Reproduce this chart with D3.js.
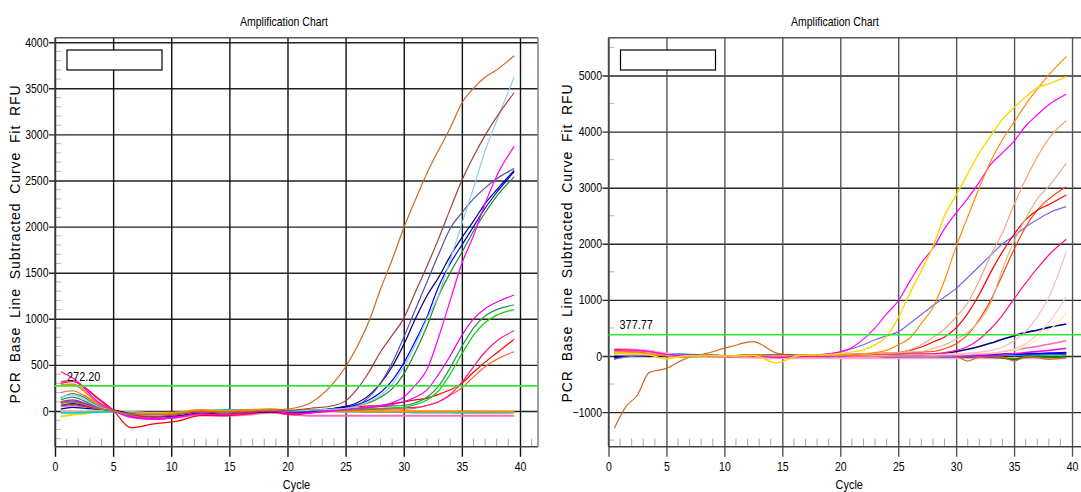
<!DOCTYPE html>
<html>
<head>
<meta charset="utf-8">
<script src="https://cdn.jsdelivr.net/npm/d3@7"></script>
<style>
  body { margin: 0; background: #fff; }
  svg text { font-family: "Liberation Sans", Arial, sans-serif; fill: #000; }
</style>
</head>
<body>
<svg id="chart" width="1081" height="492"></svg>
<script>
// Amplification charts (two panels)

const chartTitle = 'Amplification Chart';
const yLabel = 'PCR Base Line Subtracted Curve Fit RFU';
const xLabel = 'Cycle';
const xTicks = [0, 5, 10, 15, 20, 25, 30, 35, 40];

const leftYTicks = [0, 500, 1000, 1500, 2000, 2500, 3000, 3500, 4000];
const rightYTicks = [-1000, 0, 1000, 2000, 3000, 4000, 5000];
const leftThreshold = 272.20;
const rightThreshold = 377.77;

const leftCycles = [0.5, 1.5, 2.5, 3.5, 5, 6.5, 8.5, 10.5, 12.5, 14.5, 16.5, 18.5, 20.5, 22, 24, 25, 26, 27, 28, 29, 30, 31, 32, 33, 34, 35, 36, 37, 38, 39.5];
const rightCycles = [0.5, 1.5, 2.5, 3.5, 5, 6.5, 8.5, 10.5, 12.5, 14.5, 16.5, 18.5, 20.5, 22, 23, 24, 25, 26, 27, 28, 29, 30, 31, 32, 33, 34, 35, 36, 37, 38, 39.5];

const leftColors = ['#ffb6c1', '#ff69b4', '#ffd700', '#00ced1', '#ff8c00',
  '#ff6030', '#ff0000', '#ff1493', '#00dd00', '#2e8b57', '#ee00ee',
  '#228b22', '#0000ff', '#000080', '#5a50a0', '#ff00ff', '#87ceeb', '#a0403c', '#d2691e'];
const leftWidths = [2, 2, 2, 2, 2, 1.2, 1.2, 1.2, 1.2, 1.2, 1.2, 1.2, 1.2, 1.2, 1.2, 1.2, 1.2, 1.2, 1.2];
const leftValues = [
  [0,0,0,0,0,-10,-20,-20,-10,-10,-10,-10,-10,-10,-10,-10,-10,-10,-10,-10,-10,-10,-10,-10,-10,-10,-10,-10,-10,-10],
  [50,60,50,30,0,-60,-80,-70,-40,-50,-40,-20,-40,-50,-50,-50,-50,-50,-50,-50,-50,-50,-50,-50,-50,-50,-50,-50,-50,-50],
  [-60,-40,-30,-10,0,-20,-30,-20,0,-10,0,20,0,10,0,-5,-5,-10,-10,-10,-10,-10,-10,-10,-10,-10,-15,-15,-10,-5],
  [-20,-20,-15,-10,-5,-20,-30,-30,-10,10,10,10,0,5,0,-5,-5,-10,-10,-10,-10,-15,-15,-15,-15,-20,-20,-20,-20,-15],
  [282,290,220,100,0,-30,-30,-20,10,0,10,20,0,10,0,0,0,-5,-5,-5,-5,-5,-5,-5,-5,-5,-8,-8,-8,-8],
  [200,220,170,90,5,-50,-70,-50,-20,-30,-20,0,-20,-10,0,10,10,15,15,20,20,30,60,100,170,250,370,480,560,643],
  [300,320,260,160,10,-180,-140,-110,-50,-50,-30,-10,-40,-20,20,40,50,55,60,80,100,120,140,180,230,300,420,530,630,778],
  [426,360,260,150,10,-60,-90,-70,-30,-40,-20,0,-30,-20,0,10,15,20,25,30,35,40,60,100,180,310,480,640,760,870],
  [80,100,80,40,0,-30,-50,-40,-10,-20,-10,0,-10,0,10,15,20,25,30,35,40,70,120,220,400,620,820,960,1040,1100],
  [120,150,110,50,0,-40,-50,-40,-10,-20,-10,0,-10,0,10,20,30,40,50,55,60,90,150,270,470,700,900,1030,1100,1150],
  [100,120,90,50,0,-60,-80,-60,-20,-30,-10,0,-20,-10,10,20,30,40,50,70,100,150,230,400,600,820,1000,1110,1180,1258],
  [140,190,150,70,5,-40,-50,-40,-10,-20,-10,10,0,10,25,40,60,90,150,240,400,640,920,1250,1500,1720,1950,2150,2330,2540],
  [60,80,60,30,10,-30,-50,-40,-10,-20,-10,0,-10,0,25,40,70,120,200,330,520,760,1020,1350,1600,1800,2000,2200,2370,2596],
  [20,40,30,20,10,-30,-60,-50,-20,-30,-20,-10,-20,-10,30,50,90,170,300,480,720,1000,1250,1450,1680,1880,2060,2250,2400,2610],
  [90,110,80,40,0,-40,-60,-40,-10,-20,-10,0,-10,0,20,30,60,150,300,520,800,1100,1400,1700,1980,2150,2300,2420,2520,2630],
  [320,330,250,120,10,-70,-90,-70,-30,-40,-20,0,-30,-20,10,20,30,40,60,90,150,280,450,800,1200,1600,1900,2250,2550,2870],
  [150,175,130,60,5,-40,-50,-40,-10,-20,-5,10,0,10,20,30,50,100,170,290,480,720,1000,1260,1640,2030,2420,2820,3150,3620],
  [60,70,50,25,5,-40,-60,-40,-10,-20,-10,0,10,30,60,110,240,420,640,820,1005,1290,1570,1870,2190,2500,2760,2990,3190,3452],
  [100,95,70,35,0,-30,-40,-30,0,-10,0,10,30,90,310,480,700,970,1320,1640,1985,2290,2580,2830,3070,3340,3500,3620,3700,3853]
];

const rightColors = ['#ffaacc', '#000000', '#008000', '#00ffff', '#0000ff', '#d2691e',
  '#ee00ee', '#ff69b4', '#000080', '#fff59d', '#ffc0cb', '#ffb6c1', '#ff1493',
  '#7b68ee', '#ff4500', '#ff0000', '#deb887', '#ffa07a', '#ff00ff', '#ff8c00', '#ffd700'];
const rightWidths = [2, 2, 2, 2, 2, 1.2, 1.5, 1.5, 1.6, 1.2, 1.2, 1.2, 1.2, 1.2, 1.2, 1.2, 1.2, 1.2, 1.2, 1.2, 1.4];
const rightValues = [
  [60,70,60,50,40,20,0,-20,-30,-40,-40,-40,-40,-40,-40,-40,-40,-40,-40,-40,-40,-40,-40,-40,-40,-40,-40,-40,-40,-40,-40],
  [0,10,10,10,10,10,10,0,10,10,10,10,10,10,10,10,10,10,10,10,0,0,10,10,20,20,30,20,30,30,40],
  [100,110,90,50,20,0,0,0,10,0,10,0,0,0,0,-10,-10,-10,-10,-10,-20,-20,-20,-10,-20,-30,-60,-20,-10,-20,-10],
  [40,60,50,40,40,20,10,0,10,10,10,10,10,10,0,0,0,-10,-10,-10,-10,-10,0,0,10,20,20,30,30,40,50],
  [-50,0,10,20,20,20,10,0,0,0,10,10,20,30,20,20,20,20,20,10,10,10,20,20,20,30,30,40,40,50,60],
  [-1290,-903,-695,-297,-220,-60,48,166,255,50,0,10,20,20,20,20,20,20,20,10,0,-10,-90,-20,-10,-20,-90,-10,-30,-60,-30],
  [90,100,90,70,20,0,0,-10,0,-20,-10,0,0,0,0,-10,-10,-10,-10,-10,-10,-10,-10,0,0,20,40,60,80,100,137],
  [100,110,100,80,30,0,-10,-20,-10,-20,-10,-20,-10,-10,-10,-10,-10,-10,-10,-10,0,10,20,30,40,70,100,140,170,210,273],
  [-30,0,10,10,10,10,10,0,10,10,10,10,10,15,15,15,20,20,25,30,50,80,120,170,230,300,360,420,460,510,570],
  [20,20,20,20,10,0,0,0,10,0,10,10,10,15,15,15,20,20,20,20,25,30,35,45,55,60,100,180,300,450,760],
  [110,120,110,90,40,0,10,0,10,0,10,10,20,20,25,25,25,25,30,30,30,35,40,45,50,80,130,220,380,600,1057],
  [130,130,120,100,50,10,10,0,10,0,10,20,20,30,30,30,30,35,35,35,35,40,50,70,100,160,270,440,700,1050,1860],
  [120,110,100,80,20,0,10,0,10,-20,0,10,20,30,30,35,35,40,40,40,60,100,170,300,490,730,1020,1300,1560,1800,2080],
  [-50,-20,0,10,20,20,10,0,10,10,10,20,100,200,290,360,430,580,740,900,1050,1206,1400,1600,1800,2000,2140,2300,2430,2550,2662],
  [70,80,70,40,10,-10,0,0,10,-10,0,10,10,20,30,40,50,60,70,80,130,220,380,650,1000,1450,1900,2300,2600,2800,3018],
  [50,60,50,30,10,-10,0,-10,0,-10,0,10,20,30,40,50,60,100,160,250,340,500,760,1100,1500,1860,2170,2430,2600,2700,2870],
  [40,50,40,30,10,-10,0,0,10,0,10,10,20,30,40,50,60,70,80,130,200,300,420,620,950,1550,2050,2450,2800,3030,3435],
  [90,100,90,60,20,0,10,0,10,0,10,20,30,40,50,55,60,110,200,330,480,700,950,1350,1800,2200,2700,3150,3550,3880,4195],
  [100,110,100,80,30,0,10,0,20,-30,0,30,100,300,500,750,980,1330,1660,1920,2270,2550,2810,3100,3420,3620,3830,4100,4300,4480,4665],
  [80,70,60,40,0,-20,0,0,20,0,10,20,20,40,60,100,200,320,580,870,1350,1950,2480,3000,3480,3860,4170,4480,4760,5010,5336],
  [60,50,40,20,-50,0,10,0,10,-120,10,20,60,110,200,350,680,1120,1520,1950,2500,2870,3250,3620,3930,4220,4430,4620,4780,4850,4979]
];

const svg = d3.select('#chart');
const NARROW = 0.84; // the original labels use a condensed face

function drawPanel(p) {
  const x = d3.scaleLinear().domain([0, 41.55]).range([p.left, p.right]);
  const y = d3.scaleLinear().domain(p.yDomain).range([p.bottom, p.top]);
  const w = p.right - p.left, h = p.bottom - p.top;

  svg.append('clipPath').attr('id', 'clip-' + p.id)
    .append('rect').attr('x', p.left).attr('y', p.top).attr('width', w).attr('height', h);

  const g = svg.append('g');

  // minor ticks (grey, inside the plot)
  g.append('g').selectAll('line')
    .data(p.yMinor)
    .enter().append('line')
    .attr('x1', p.left).attr('x2', p.left + 6)
    .attr('y1', d => y(d)).attr('y2', d => y(d))
    .attr('stroke', '#b8b8b8').attr('stroke-width', 1);

  const xMinor = d3.range(1, 42).filter(d => d % 5 !== 0);
  g.append('g').selectAll('line')
    .data(xMinor)
    .enter().append('line')
    .attr('x1', d => x(d)).attr('x2', d => x(d))
    .attr('y1', p.bottom).attr('y2', p.bottom - 8)
    .attr('stroke', '#a8a8a8').attr('stroke-width', 1);

  // horizontal grid + outer ticks + labels
  const yAxis = g.append('g')
    .attr('transform', `translate(${p.left},0)`)
    .call(d3.axisLeft(y).tickValues(p.yTicks).tickFormat(d3.format('d'))
      .tickSizeInner(-w).tickSizeOuter(0));
  yAxis.select('.domain').remove();
  yAxis.selectAll('.tick line').attr('x1', -6).attr('stroke', p.hGrid).attr('stroke-width', 1.4);
  yAxis.selectAll('.tick text')
    .attr('font-size', 12.5).attr('font-family', null)
    .attr('x', -6.5 / NARROW)
    .attr('transform', `scale(${NARROW},1)`);

  // vertical grid + outer ticks + labels
  const xAxis = g.append('g')
    .attr('transform', `translate(0,${p.bottom})`)
    .call(d3.axisBottom(x).tickValues(xTicks).tickSizeInner(10).tickSizeOuter(0));
  xAxis.select('.domain').remove();
  xAxis.selectAll('.tick line').attr('y1', -h).attr('y2', 10).attr('stroke', p.vGrid).attr('stroke-width', 1.4);
  xAxis.selectAll('.tick text')
    .attr('font-size', 12.5).attr('font-family', null)
    .attr('y', 24).attr('dy', 0)
    .attr('transform', `scale(${NARROW},1)`);

  // plot frame
  g.append('line').attr('x1', p.left).attr('x2', p.right).attr('y1', p.top).attr('y2', p.top)
    .attr('stroke', '#555').attr('stroke-width', 1.4);
  g.append('line').attr('x1', p.left).attr('x2', p.right).attr('y1', p.bottom).attr('y2', p.bottom)
    .attr('stroke', '#444').attr('stroke-width', 1.4);
  g.append('line').attr('x1', p.left).attr('x2', p.left).attr('y1', p.top).attr('y2', p.bottom)
    .attr('stroke', '#444').attr('stroke-width', 1.4);
  g.append('line').attr('x1', p.right).attr('x2', p.right).attr('y1', p.top).attr('y2', p.bottom)
    .attr('stroke', '#888').attr('stroke-width', 1.6);

  // curves
  const line = d3.line()
    .x((d, i) => x(p.cycles[i]))
    .y(d => y(d))
    .curve(d3.curveMonotoneX);

  g.append('g').attr('clip-path', `url(#clip-${p.id})`)
    .selectAll('path')
    .data(p.values)
    .enter().append('path')
    .attr('d', d => line(d))
    .attr('fill', 'none')
    .attr('stroke', (d, i) => p.colors[i])
    .attr('stroke-width', (d, i) => p.widths[i])
    .attr('stroke-linejoin', 'round');

  // threshold
  g.append('line')
    .attr('x1', p.left).attr('x2', p.right)
    .attr('y1', y(p.threshold)).attr('y2', y(p.threshold))
    .attr('stroke', '#33e833').attr('stroke-width', 1.6);
  g.append('text')
    .attr('transform', `translate(${p.left + p.thrDx},${y(p.threshold) - p.thrDy}) scale(${NARROW},1)`)
    .attr('font-size', 13)
    .text(p.threshold.toFixed(2));

  // empty legend box
  g.append('rect')
    .attr('x', p.left + 12).attr('y', 50)
    .attr('width', 95).attr('height', 20)
    .attr('fill', '#fff').attr('stroke', '#000').attr('stroke-width', 1.2);

  // titles
  svg.append('text')
    .attr('transform', `translate(${p.titleX},26) scale(${NARROW},1)`)
    .attr('text-anchor', 'middle').attr('font-size', 12.5).text(chartTitle);
  svg.append('text')
    .attr('transform', `translate(${(p.left + p.right) / 2},489) scale(${NARROW},1)`)
    .attr('text-anchor', 'middle').attr('font-size', 13).text(xLabel);
  svg.append('text')
    .attr('transform', `translate(${p.yLabelX},${p.yLabelY}) rotate(-90)`)
    .attr('text-anchor', 'middle').attr('font-size', 14)
    .attr('letter-spacing', 0.9).attr('word-spacing', 4)
    .text(yLabel);
}

drawPanel({
  id: 'left', left: 55, right: 538, top: 37.7, bottom: 446.7,
  yDomain: [-387, 4049], yTicks: leftYTicks,
  yMinor: d3.range(-300, 4001, 100).filter(d => d % 500 !== 0),
  cycles: leftCycles, values: leftValues, colors: leftColors, widths: leftWidths,
  threshold: leftThreshold, thrDx: 12, thrDy: 5,
  hGrid: '#222', vGrid: '#111',
  titleX: 284, yLabelX: 20, yLabelY: 244
});

drawPanel({
  id: 'right', left: 608.5, right: 1090, top: 37.7, bottom: 446.7,
  yDomain: [-1617, 5674], yTicks: rightYTicks,
  yMinor: [-1500, -500, 500, 1500, 2500, 3500, 4500, 5500],
  cycles: rightCycles, values: rightValues, colors: rightColors, widths: rightWidths,
  threshold: rightThreshold, thrDx: 11, thrDy: 6,
  hGrid: '#2a2a2a', vGrid: '#555',
  titleX: 835, yLabelX: 572, yLabelY: 243
});
</script>
</body>
</html>
